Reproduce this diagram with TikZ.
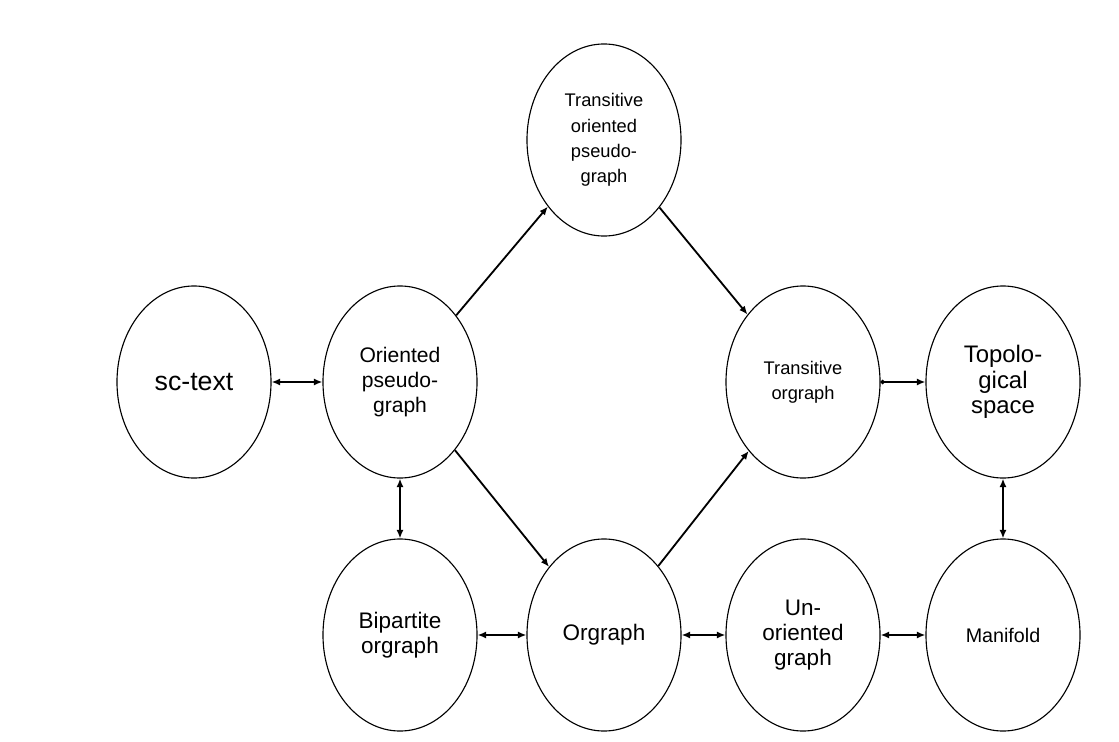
\documentclass[tikz,border=0pt]{standalone}
\usepackage{fontspec}
\setmainfont{Liberation Sans}
\usetikzlibrary{shapes.geometric,arrows.meta}

\begin{document}
\begin{tikzpicture}[x=0.025cm,y=-0.025cm,line width=0.8pt]

      \useasboundingbox (0,0) rectangle (1119,742);

      \begin{scope}[every node/.style={ellipse,draw,align=center,inner sep=0pt,
          minimum width=3.85cm,minimum height=4.8cm,
          font=\fontsize{15}{18}\selectfont}]
        \node (sctext) at (194,382) {\fontsize{19}{22}\selectfont sc-text};
        \node (opg)    at (400,382) {Oriented\\pseudo-\\graph};
        \node (topg)   at (604,140) {\fontsize{13}{17}\selectfont Transitive\\
          \fontsize{13}{17}\selectfont oriented\\\fontsize{13}{17}\selectfont pseudo-\\
          \fontsize{13}{17}\selectfont graph};
        \node (torg)   at (803,382) {\fontsize{13}{18}\selectfont Transitive\\
          \fontsize{13}{18}\selectfont orgraph};
        \node (topo)   at (1003,382) {\fontsize{17}{22}\selectfont Topolo-\\
          \fontsize{17}{22}\selectfont gical\\\fontsize{17}{22}\selectfont space};
        \node (bip)    at (400,635) {\fontsize{16}{21}\selectfont Bipartite\\
          \fontsize{16}{21}\selectfont orgraph};
        \node (org)    at (604,635) {\fontsize{16}{21}\selectfont Orgraph};
        \node (unor)   at (803,635) {\fontsize{16}{23}\selectfont Un-\\
          \fontsize{16}{23}\selectfont oriented\\\fontsize{16}{23}\selectfont graph};
        \node (mani)   at (1003,635) {\fontsize{14}{18}\selectfont Manifold};
      \end{scope}

      \begin{scope}[>={Latex[length=6pt,width=5pt]}]

        \begin{scope}[every edge/.style={draw,line width=1.3pt}]
          \path (sctext) edge[<->] (opg);
          \path (opg)    edge[->]  (topg);
          \path (topg)   edge[->]  (torg);
          \path (opg)    edge[->]  (org);
          \path (org)    edge[->]  (torg);
          \path (opg)    edge[<->] (bip);
          \path (bip)    edge[<->] (org);
          \path (org)    edge[<->] (unor);
          \path (unor)   edge[<->] (mani);
          \path (torg)   edge[{Circle[open,length=3pt]}->] (topo);
          \path (topo)   edge[<->] (mani);
        \end{scope}
      \end{scope}

    \end{tikzpicture}
\end{document}
